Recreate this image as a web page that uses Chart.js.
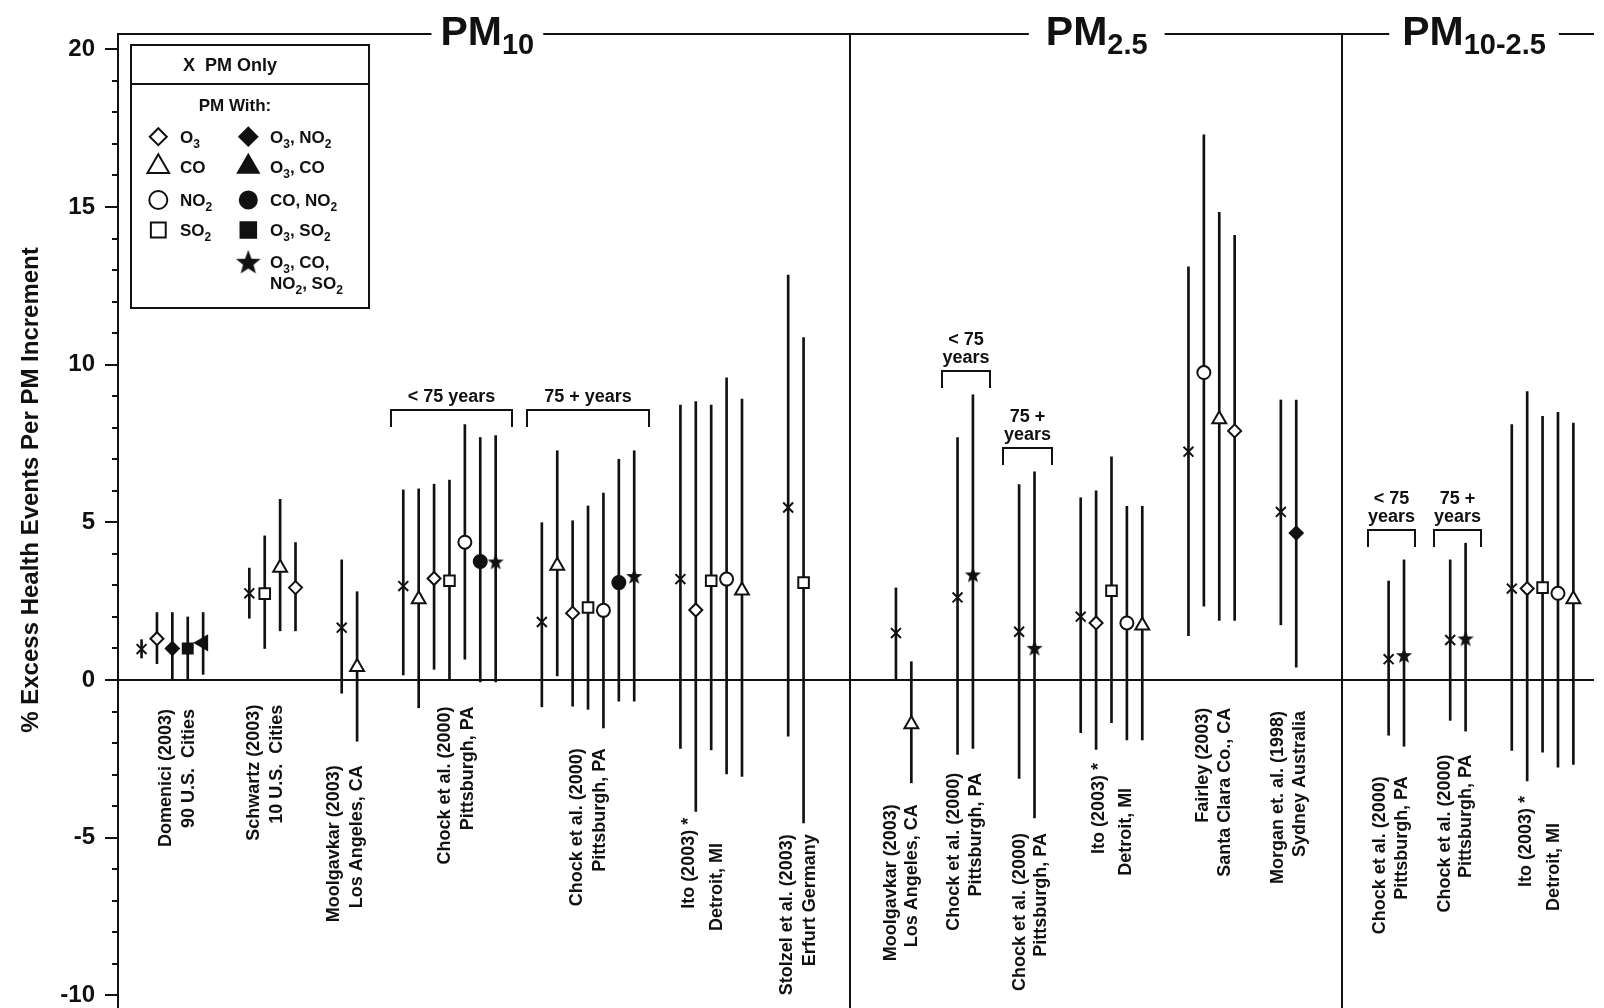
<!DOCTYPE html>
<html>
<head>
<meta charset="utf-8">
<title>% Excess Health Events Per PM Increment</title>
<script src="https://cdn.jsdelivr.net/npm/chart.js@4.4.1/dist/chart.umd.min.js"></script>
<style>
  html, body { margin: 0; padding: 0; background: #fff; }
  #wrap { width: 1604px; height: 1008px; }
</style>
</head>
<body>
<div id="wrap"><canvas id="pmChart" width="1604" height="1008"></canvas></div>
<script>
// Each row: [slot on the x axis, estimate, lower 95% CI, upper 95% CI]
const pmOnly = [
  [0, 0.98, 0.70, 1.28],
  [7, 2.75, 1.96, 3.55],
  [13, 1.66, -0.42, 3.81],
  [17, 2.98, 0.16, 6.03],
  [26, 1.84, -0.85, 4.99],
  [35, 3.20, -2.17, 8.72],
  [42, 5.47, -1.78, 12.84],
  [49, 1.49, 0.00, 2.92],
  [53, 2.62, -2.36, 7.69],
  [57, 1.53, -3.12, 6.20],
  [61, 2.01, -1.67, 5.78],
  [68, 7.24, 1.41, 13.10],
  [74, 5.33, 1.75, 8.88],
  [81, 0.66, -1.75, 3.14],
  [85, 1.27, -1.28, 3.81],
  [89, 2.90, -2.23, 8.10]
];
const withO3 = [
  [1, 1.31, 0.52, 2.14],
  [10, 2.93, 1.56, 4.36],
  [19, 3.22, 0.34, 6.21],
  [28, 2.12, -0.83, 5.05],
  [36, 2.22, -4.17, 8.83],
  [62, 1.81, -2.20, 6.00],
  [71, 7.90, 1.89, 14.10],
  [90, 2.90, -3.20, 9.15]
];
const withCO = [
  [9, 3.56, 1.56, 5.73],
  [14, 0.41, -1.94, 2.80],
  [18, 2.56, -0.88, 6.06],
  [27, 3.62, 0.13, 7.27],
  [39, 2.84, -3.06, 8.91],
  [50, -1.40, -3.26, 0.58],
  [65, 1.73, -1.90, 5.51],
  [70, 8.27, 1.89, 14.83],
  [93, 2.56, -2.68, 8.15]
];
const withNO2 = [
  [21, 4.37, 0.66, 8.10],
  [30, 2.21, -1.52, 5.93],
  [38, 3.20, -2.98, 9.58],
  [64, 1.81, -1.90, 5.51],
  [69, 9.75, 2.34, 17.29],
  [92, 2.75, -2.76, 8.49]
];
const withSO2 = [
  [8, 2.74, 1.00, 4.57],
  [20, 3.15, 0.00, 6.34],
  [29, 2.30, -0.93, 5.52],
  [37, 3.15, -2.22, 8.72],
  [43, 3.09, -4.53, 10.86],
  [63, 2.83, -1.35, 7.08],
  [91, 2.93, -2.29, 8.36]
];
const withO3NO2 = [
  [2, 1.00, 0.00, 2.14],
  [75, 4.66, 0.41, 8.88]
];
const withO3CO = [
  [4, 1.18, 0.18, 2.14]
];
const withCONO2 = [
  [22, 3.76, -0.06, 7.69],
  [31, 3.09, -0.67, 7.00]
];
const withO3SO2 = [
  [3, 1.00, 0.00, 2.00]
];
const withAllFour = [
  [23, 3.76, -0.06, 7.75],
  [32, 3.30, -0.67, 7.27],
  [54, 3.35, -2.17, 9.04],
  [58, 1.02, -4.37, 6.60],
  [82, 0.79, -2.10, 3.81],
  [86, 1.32, -1.62, 4.34]
];

// study labels under each group of estimates
const studyLabels = [
  ['Domenici (2003)', '90 U.S.  Cities'],
  ['Schwartz (2003)', '10 U.S.  Cities'],
  ['Moolgavkar (2003)', 'Los Angeles, CA'],
  ['Chock et al. (2000)', 'Pittsburgh, PA'],
  ['Chock et al. (2000)', 'Pittsburgh, PA'],
  ['Ito (2003) *', 'Detroit, MI'],
  ['Stolzel et al. (2003)', 'Erfurt Germany'],
  ['Moolgavkar (2003)', 'Los Angeles, CA'],
  ['Chock et al. (2000)', 'Pittsburgh, PA'],
  ['Chock et al. (2000)', 'Pittsburgh, PA'],
  ['Ito (2003) *', 'Detroit, MI'],
  ['Fairley (2003)', 'Santa Clara Co., CA'],
  ['Morgan et. al. (1998)', 'Sydney Australia'],
  ['Chock et al. (2000)', 'Pittsburgh, PA'],
  ['Chock et al. (2000)', 'Pittsburgh, PA'],
  ['Ito (2003) *', 'Detroit, MI']
];
const labelSlot = [2.33, 8.08, 13.26, 20.45, 29.02, 36.44, 42.68, 49.34, 53.46, 57.75, 63.05, 69.66, 74.53, 81.13, 85.34, 90.85];
// y value where each rotated line ends (top of the text)
const labelEnd = [
  [-0.92, -0.92], [-0.78, -0.78], [-2.70, -2.70], [-0.84, -0.84], [-2.16, -2.16],
  [-4.37, -5.17], [-4.89, -4.89], [-3.94, -3.94], [-2.94, -2.94], [-4.85, -4.85],
  [-2.63, -3.42], [-0.88, -0.88], [-0.98, -0.98], [-3.05, -3.05], [-2.36, -2.36],
  [-3.68, -4.53]
];
const labelSpread = [23, 23, 23, 23, 23, 28, 23, 21, 22, 21, 27, 22, 22, 22, 21, 28];

const sectionTitles = [
  { slot: 22.46, parts: [['PM', 0], ['10', 1]], pad: 9 },
  { slot: 62.04, parts: [['PM', 0], ['2.5', 1]], pad: 17 },
  { slot: 86.55, parts: [['PM', 0], ['10-2.5', 1]], pad: 13 }
];
const sectionDividers = [46, 78];

const ageBrackets = [
  { from: 16.17, to: 24.08, y: 8.56, text: ['< 75 years'] },
  { from: 25.05, to: 32.97, y: 8.56, text: ['75 + years'] },
  { from: 51.97, to: 55.10, y: 9.79, text: ['< 75', 'years'] },
  { from: 55.97, to: 59.14, y: 7.36, text: ['75 +', 'years'] },
  { from: 79.63, to: 82.73, y: 4.76, text: ['< 75', 'years'] },
  { from: 83.94, to: 87.03, y: 4.76, text: ['75 +', 'years'] }
];

const FONT = '"Liberation Sans", Arial, Helvetica, sans-serif';
const INK = '#111';
Chart.defaults.font.family = FONT;
Chart.defaults.color = INK;

// filled five-point star used for the all-pollutant models
function makeStar(outer) {
  const inner = outer * 0.42;
  const size = 2 * Math.ceil(outer + 1);
  const c = document.createElement('canvas');
  c.width = size;
  c.height = size;
  const g = c.getContext('2d');
  g.translate(size / 2, size / 2 + outer * 0.1);
  g.beginPath();
  for (let i = 0; i < 10; i++) {
    const r = i % 2 ? inner : outer;
    const a = -Math.PI / 2 + i * Math.PI / 5;
    g.lineTo(Math.cos(a) * r, Math.sin(a) * r);
  }
  g.closePath();
  g.fillStyle = INK;
  g.fill();
  return c;
}
const starSmall = makeStar(8.5);
const starLarge = makeStar(13);

const markerSeries = [
  { label: 'PM Only', rows: pmOnly, style: 'crossRot', radius: 7, fill: false },
  { label: 'O3', rows: withO3, style: 'rectRot', radius: 6.5, fill: false },
  { label: 'CO', rows: withCO, style: 'triangle', radius: 8, fill: false },
  { label: 'NO2', rows: withNO2, style: 'circle', radius: 6.5, fill: false },
  { label: 'SO2', rows: withSO2, style: 'rect', radius: 7.5, fill: false },
  { label: 'O3, NO2', rows: withO3NO2, style: 'rectRot', radius: 6.5, fill: true },
  { label: 'O3, CO', rows: withO3CO, style: 'triangle', radius: 8, fill: true, rotation: -90 },
  { label: 'CO, NO2', rows: withCONO2, style: 'circle', radius: 6.5, fill: true },
  { label: 'O3, SO2', rows: withO3SO2, style: 'rect', radius: 7, fill: true },
  { label: 'O3, CO, NO2, SO2', rows: withAllFour, style: starSmall, radius: 8, fill: true }
];

const errorBars = markerSeries.flatMap(s => s.rows.map(([slot, , lo, hi]) => ({ x: slot, y: [lo, hi] })));

function richWidth(ctx, parts, size, subSize) {
  let w = 0;
  parts.forEach(([t, sub]) => {
    ctx.font = `bold ${sub ? subSize : size}px ${FONT}`;
    w += ctx.measureText(t).width;
  });
  return w;
}

function drawRich(ctx, parts, x, baseline, size, subSize, drop, align) {
  const w = richWidth(ctx, parts, size, subSize);
  let cx = align === 'center' ? x - w / 2 : x;
  ctx.textAlign = 'left';
  ctx.textBaseline = 'alphabetic';
  parts.forEach(([t, sub]) => {
    ctx.font = `bold ${sub ? subSize : size}px ${FONT}`;
    ctx.fillText(t, cx, sub ? baseline + drop : baseline);
    cx += ctx.measureText(t).width;
  });
  return w;
}

function legendSymbol(ctx, style, r, filled, x, y, rotation) {
  ctx.save();
  ctx.fillStyle = filled ? INK : '#fff';
  ctx.strokeStyle = INK;
  ctx.lineWidth = 2;
  Chart.helpers.drawPoint(ctx, { pointStyle: style, radius: r, borderWidth: 2, rotation: rotation || 0 }, x, y);
  ctx.restore();
}

const legendRows = [
  { y: 136.7, left: ['rectRot', 8.5, [['O', 0], ['3', 1]]], right: ['rectRot', 9, [['O', 0], ['3', 1], [', NO', 0], ['2', 1]]] },
  { y: 166.7, left: ['triangle', 12.5, [['CO', 0]]], right: ['triangle', 12, [['O', 0], ['3', 1], [', CO', 0]]] },
  { y: 200.0, left: ['circle', 9, [['NO', 0], ['2', 1]]], right: ['circle', 8.5, [['CO, NO', 0], ['2', 1]]] },
  { y: 230.0, left: ['rect', 10.5, [['SO', 0], ['2', 1]]], right: ['rect', 11, [['O', 0], ['3', 1], [', SO', 0], ['2', 1]]] }
];

// stretch the plot area down to the bottom edge of the canvas
const fullHeightPlugin = {
  id: 'fullHeight',
  afterLayout(chart) {
    const a = chart.chartArea;
    const y = chart.scales.y;
    const bottom = chart.height;
    if (a.bottom < bottom) {
      a.bottom = bottom;
      a.height = a.bottom - a.top;
      y.bottom = bottom;
      y.height = y.bottom - y.top;
      y.configure();
    }
  }
};

const annotationPlugin = {
  id: 'annotations',
  beforeDatasetsDraw(chart) {
    const { ctx, chartArea: a, scales: { x, y } } = chart;
    ctx.save();
    ctx.strokeStyle = INK;
    ctx.lineWidth = 2;
    ctx.beginPath();
    ctx.moveTo(a.left, a.top);
    ctx.lineTo(a.right, a.top);
    sectionDividers.forEach(s => {
      const px = Math.round(x.getPixelForValue(s));
      ctx.moveTo(px, a.top);
      ctx.lineTo(px, a.bottom);
    });
    // minor ticks every 1 %
    y.ticks.forEach(t => {
      if (t.value % 5 !== 0) {
        const py = Math.round(y.getPixelForValue(t.value));
        ctx.moveTo(a.left - 6, py);
        ctx.lineTo(a.left, py);
      }
    });
    ctx.stroke();
    ctx.restore();
  },
  afterDatasetsDraw(chart) {
    const { ctx, chartArea: a, scales: { x, y } } = chart;
    ctx.save();
    ctx.fillStyle = INK;
    ctx.strokeStyle = INK;
    ctx.lineWidth = 2;

    // section titles sitting on the top frame line
    sectionTitles.forEach(s => {
      const cx = x.getPixelForValue(s.slot);
      const w = richWidth(ctx, s.parts, 41, 29);
      ctx.fillStyle = '#fff';
      ctx.fillRect(cx - w / 2 - s.pad, a.top - 4, w + 2 * s.pad, 8);
      ctx.fillStyle = INK;
      drawRich(ctx, s.parts, cx, a.top + 11, 41, 29, 8.5, 'center');
    });

    // study labels, rotated
    ctx.font = `bold 18px ${FONT}`;
    studyLabels.forEach((lines, i) => {
      const cx = x.getPixelForValue(labelSlot[i]);
      lines.forEach((line, j) => {
        ctx.save();
        ctx.translate(cx + (j - 0.5) * labelSpread[i], y.getPixelForValue(labelEnd[i][j]));
        ctx.rotate(-Math.PI / 2);
        ctx.textAlign = 'right';
        ctx.textBaseline = 'middle';
        ctx.fillText(line, 0, 0);
        ctx.restore();
      });
    });

    // age group brackets
    ageBrackets.forEach(b => {
      const x0 = Math.round(x.getPixelForValue(b.from));
      const x1 = Math.round(x.getPixelForValue(b.to));
      const py = Math.round(y.getPixelForValue(b.y));
      ctx.beginPath();
      ctx.moveTo(x0, py + 17);
      ctx.lineTo(x0, py);
      ctx.lineTo(x1, py);
      ctx.lineTo(x1, py + 17);
      ctx.stroke();
      ctx.font = `bold 18px ${FONT}`;
      ctx.textAlign = 'center';
      ctx.textBaseline = 'middle';
      b.text.forEach((t, k) => {
        ctx.fillText(t, (x0 + x1) / 2, py - 13 - (b.text.length - 1 - k) * 17.5);
      });
    });

    // y axis title
    ctx.save();
    ctx.translate(31, 490);
    ctx.rotate(-Math.PI / 2);
    ctx.font = `bold 24px ${FONT}`;
    ctx.textAlign = 'center';
    ctx.textBaseline = 'middle';
    ctx.fillText('% Excess Health Events Per PM Increment', 0, 0);
    ctx.restore();

    // legend box
    ctx.fillStyle = '#fff';
    ctx.fillRect(131, 45, 238, 263);
    ctx.strokeRect(131, 45, 238, 263);
    ctx.beginPath();
    ctx.moveTo(131, 84);
    ctx.lineTo(369, 84);
    ctx.stroke();
    ctx.fillStyle = INK;
    ctx.font = `bold 18px ${FONT}`;
    ctx.textAlign = 'center';
    ctx.textBaseline = 'middle';
    ctx.fillText('X  PM Only', 230, 66);
    ctx.font = `bold 17px ${FONT}`;
    ctx.fillText('PM With:', 235, 106);
    legendRows.forEach(row => {
      const base = row.y + 6;
      legendSymbol(ctx, row.left[0], row.left[1], false, 158.3, row.y, 0);
      ctx.fillStyle = INK;
      drawRich(ctx, row.left[2], 180, base, 17, 12, 5, 'left');
      legendSymbol(ctx, row.right[0], row.right[1], true, 248.3, row.y, 0);
      ctx.fillStyle = INK;
      drawRich(ctx, row.right[2], 270, base, 17, 12, 5, 'left');
    });
    legendSymbol(ctx, starLarge, 13, true, 248.3, 261.7, 0);
    ctx.fillStyle = INK;
    drawRich(ctx, [['O', 0], ['3', 1], [', CO,', 0]], 270, 267.7, 17, 12, 5, 'left');
    drawRich(ctx, [['NO', 0], ['2', 1], [', SO', 0], ['2', 1]], 270, 289.3, 17, 12, 5, 'left');

    ctx.restore();
  }
};

new Chart(document.getElementById('pmChart'), {
  type: 'scatter',
  data: {
    datasets: [
      {
        type: 'bar',
        label: '95% CI',
        data: errorBars,
        backgroundColor: INK,
        borderWidth: 0,
        barThickness: 2,
        order: 2
      },
      ...markerSeries.map(s => ({
        type: 'scatter',
        label: s.label,
        data: s.rows.map(([slot, est]) => ({ x: slot, y: est })),
        pointStyle: s.style,
        pointRadius: s.radius,
        pointRotation: s.rotation || 0,
        pointBackgroundColor: s.fill ? INK : '#fff',
        pointBorderColor: INK,
        pointBorderWidth: 2,
        order: 1
      }))
    ]
  },
  options: {
    responsive: false,
    devicePixelRatio: 1,
    animation: false,
    events: [],
    layout: { padding: { top: 34, left: 0, right: 0, bottom: 0 } },
    plugins: {
      legend: { display: false },
      tooltip: { enabled: false }
    },
    scales: {
      x: { type: 'linear', min: -1.53, max: 94.34, offset: false, display: false },
      y: {
        type: 'linear',
        min: -10.40,
        max: 20.485,
        afterBuildTicks: scale => {
          const ticks = [];
          for (let v = -10; v <= 20; v++) ticks.push({ value: v });
          scale.ticks = ticks;
        },
        afterFit: scale => {
          scale.width = 118;
          scale.paddingTop = 0;
          scale.paddingBottom = 0;
        },
        border: { display: true, color: INK, width: 2 },
        grid: {
          drawOnChartArea: true,
          lineWidth: 2,
          tickLength: 13,
          tickWidth: 2,
          color: c => (c.tick && c.tick.value === 0 ? INK : 'rgba(0,0,0,0)'),
          tickColor: c => (c.tick && c.tick.value % 5 === 0 ? INK : 'rgba(0,0,0,0)')
        },
        ticks: {
          autoSkip: false,
          padding: 10,
          color: INK,
          font: { size: 24, weight: 'bold' },
          callback: v => (v % 5 === 0 ? String(v) : '')
        }
      }
    }
  },
  plugins: [fullHeightPlugin, annotationPlugin]
});
</script>
</body>
</html>
